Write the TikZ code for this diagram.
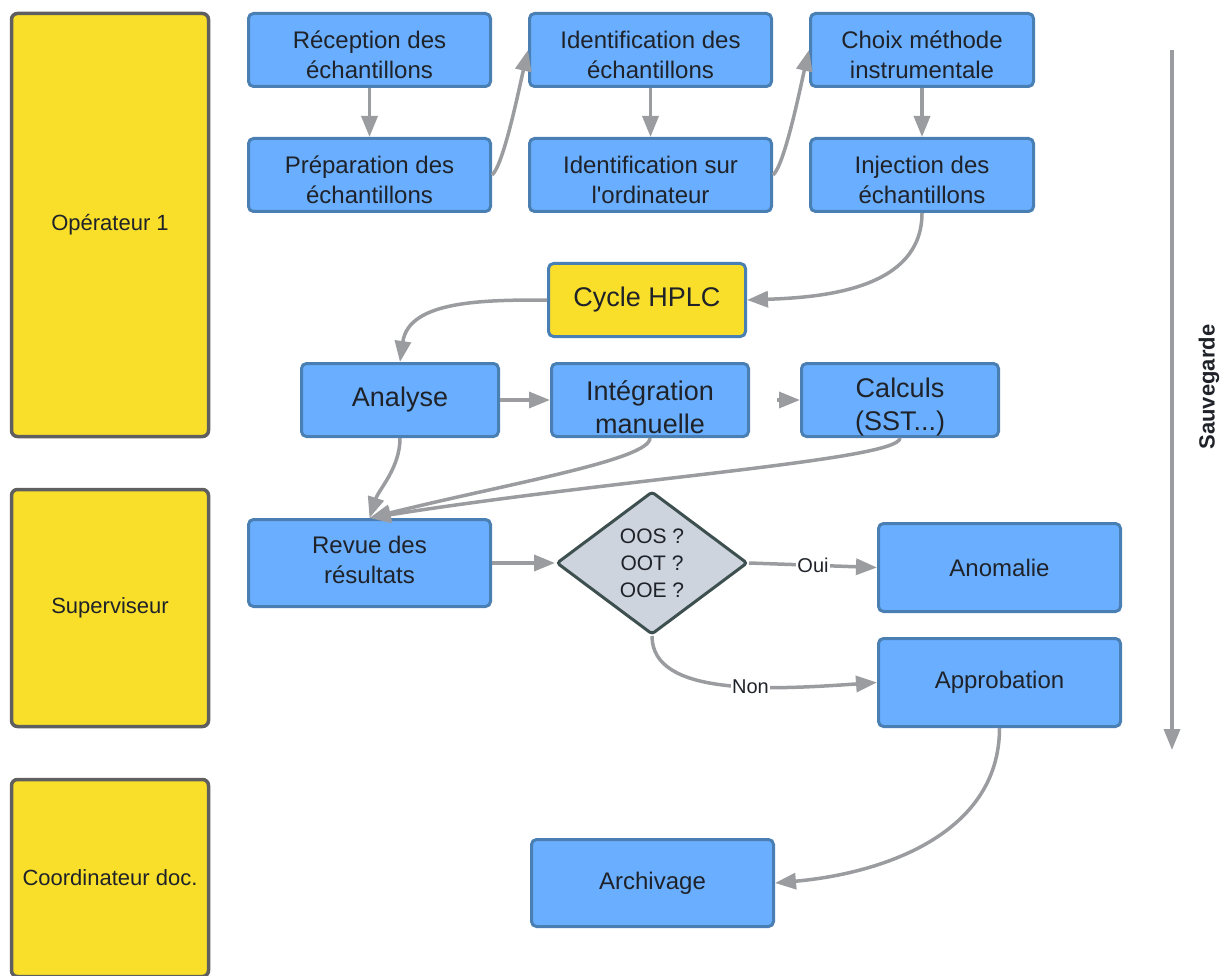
\documentclass[tikz,border=0pt]{standalone}
\usepackage{fontspec}
\setmainfont{Liberation Sans}
\usepackage{tikz}
\usetikzlibrary{arrows.meta,shapes.geometric,positioning}
\usepackage{color}

\definecolor{boxblue}{HTML}{6AAEFF}
\definecolor{boxedge}{HTML}{4A7FB4}
\definecolor{laneyellow}{HTML}{F9DF2A}
\definecolor{laneedge}{HTML}{5F5F5F}
\definecolor{diafill}{HTML}{CED4DD}
\definecolor{diaedge}{HTML}{3D4F4F}
\definecolor{flowgray}{HTML}{9A9C9F}
\definecolor{txtdark}{HTML}{1F2329}

% hauteur en tete de ligne (pour descendre le texte)
\newcommand{\padtop}[1]{\rule{0pt}{#1}}
\newcommand{\padbot}[1]{\rule[-#1]{0pt}{#1}}

\tikzset{
  lane/.style={draw=laneedge, fill=laneyellow, line width=3.5pt, rounded corners=6pt,
    text=txtdark, font=\fontsize{22}{26}\selectfont, minimum width=197pt, inner sep=0pt},
  proc/.style={draw=boxedge, fill=boxblue, line width=3pt, rounded corners=5pt,
    text=txtdark, align=center, font=\fontsize{24}{30}\selectfont, inner sep=0pt,
    minimum width=242pt, minimum height=73pt},
  bigproc/.style={proc, font=\fontsize{27}{33}\selectfont, minimum width=197pt},
  hplc/.style={bigproc, fill=laneyellow},
  test/.style={diamond, draw=diaedge, fill=diafill, line width=3pt, rounded corners=3pt,
    text=txtdark, align=center, font=\fontsize{21}{27}\selectfont, inner sep=0pt,
    minimum width=191pt, minimum height=143pt},
  flow/.style={draw=flowgray, line width=3.5pt, -{Triangle[length=21pt,width=16pt]}},
  lbl/.style={fill=white, inner sep=1pt, text=txtdark, font=\fontsize{20}{24}\selectfont}
}

\begin{document}
\begin{tikzpicture}[x=1pt,y=1pt]
\useasboundingbox (0,0) rectangle (1220,-976);

% couloirs
\node[lane, minimum height=423pt] (op) at (110,-225) {Opérateur 1};
\node[lane, minimum height=237pt] (sup) at (110,-608) {Superviseur};
\node[lane, minimum height=197pt] (coord) at (110,-878) {Coordinateur doc.};

% preparation
\node[proc] (rec) at (369.5,-50) {\padtop{28pt}Réception des\\échantillons};
\node[proc, below=49pt of rec] (prep) {\padtop{28pt}Préparation des\\échantillons};
\node[proc] (idech) at (650.5,-50) {\padtop{28pt}Identification des\\échantillons};
\node[proc, below=49pt of idech] (idord) {\padtop{28pt}Identification sur\\l\textquotesingle ordinateur};
\node[proc, minimum width=223pt] (choix) at (922,-50) {\padtop{28pt}Choix méthode\\instrumentale};
\node[proc, minimum width=223pt, below=49pt of choix] (inj) {\padtop{28pt}Injection des\\échantillons};

\node[hplc] (cycle) at (647,-300) {Cycle HPLC};

\node[bigproc] (ana) at (400,-400) {Analyse};
\node[bigproc] (integ) at (650,-400) {\padtop{34pt}Intégration\\manuelle};
\node[bigproc] (calc) at (900,-400) {\padtop{34pt}Calculs\\(SST...)};

% revue
\node[proc, minimum height=87pt] (revue) at (369.5,-563) {Revue des\\résultats\padbot{6pt}};
\node[test] (dia) at (652,-563) {OOS ?\\OOT ?\\OOE ?};
\node[proc, minimum height=88pt] (anom) at (999.5,-567.5) {Anomalie};
\node[proc, minimum height=88pt] (appr) at (999.5,-682.5) {Approbation};
\node[proc, minimum height=87pt] (arch) at (652.5,-883) {Archivage};

\draw[flow] (rec.south) -- (prep.north);
\draw[flow] (idech.south) -- (idord.north);
\draw[flow] (choix.south) -- (inj.north);
\draw[flow] (prep.east) to[out=40,in=-103,out distance=15pt,in distance=40pt] (idech.west);
\draw[flow] (idord.east) to[out=40,in=-103,out distance=15pt,in distance=40pt] (choix.west);
\draw[flow] (inj.south) to[out=-90,in=2] (cycle.east);
\draw[flow] (cycle.west) to[out=180,in=82] (ana.north);

\draw[flow] (ana.east) -- (integ.west);
\draw[flow, shorten <=27pt] (integ.east) -- (calc.west);

\draw[flow] (ana.south) to[out=-90,in=72,out distance=30pt,in distance=30pt] (revue.north);
\draw[flow] (integ.south) to[out=-90,in=14,out distance=22pt,in distance=140pt] (revue.north);
\draw[flow] (calc.south) to[out=-90,in=9,out distance=22pt,in distance=250pt] (revue.north);

\draw[flow] (revue.east) -- (dia.west);
\draw[flow] (dia.east) -- node[lbl] (oui) {Oui} (anom.west);
\draw[flow] (dia.south) to[out=-90,in=184,out distance=60pt,in distance=110pt]
  node[lbl, pos=0.6] (non) {Non} (appr.west);
\draw[flow] (appr.south) to[out=-90,in=5] (arch.east);

% sauvegarde
\coordinate (savtop) at (1172,-50);
\coordinate (savbot) at (1172,-750);
\draw[flow] (savtop) -- (savbot);
\node[rotate=90, text=txtdark, font=\fontsize{22}{26}\selectfont\bfseries] (sav) at (1209,-387) {Sauvegarde};

\end{tikzpicture}
\end{document}
